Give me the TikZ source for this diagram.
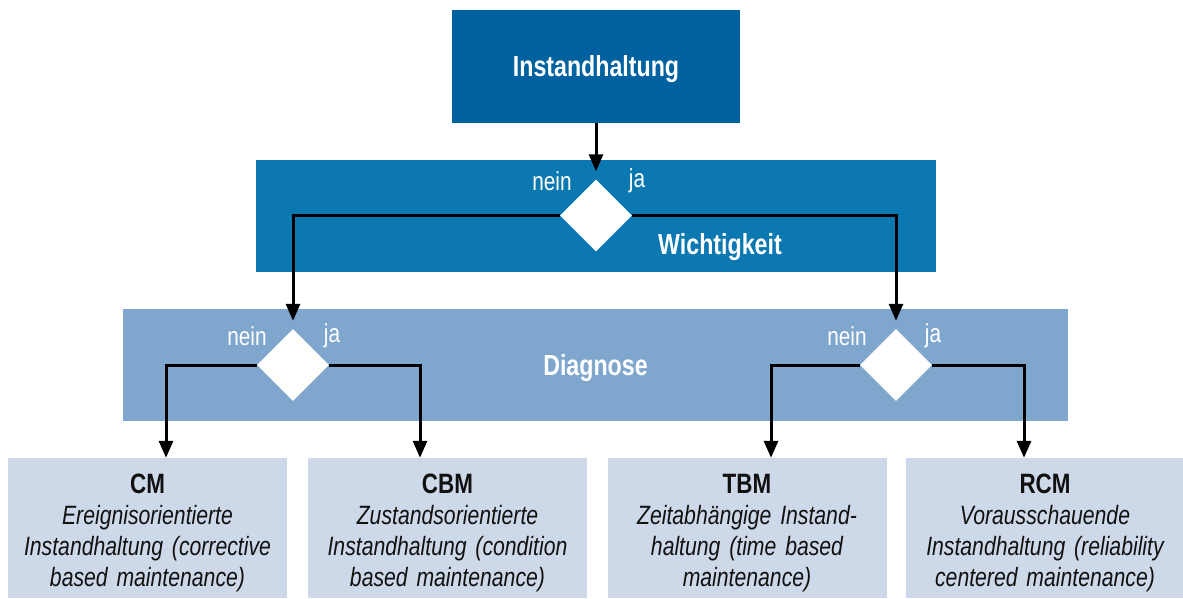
\documentclass[tikz,border=0pt]{standalone}
\usepackage{fontspec}
\setmainfont{Liberation Sans}[FakeStretch=0.8]
\usetikzlibrary{shapes.geometric,arrows.meta}
\definecolor{topc}{HTML}{0061A0}
\definecolor{wc}{HTML}{0C78B1}
\definecolor{dc}{HTML}{7FA6CD}
\definecolor{leafc}{HTML}{CDD9E9}
\definecolor{ink}{HTML}{111111}
\tikzset{
  band/.style={rectangle, inner sep=0pt, draw=none},
  title/.style={font=\bfseries\fontsize{29}{32}\selectfont, text=white, text depth=0pt},
  yn/.style={font=\fontsize{26}{30}\selectfont, text=white, inner sep=0pt},
  dia/.style={diamond, fill=white, inner sep=0pt, minimum width=72pt, minimum height=72pt},
  leaf/.style={rectangle, fill=leafc, inner sep=0pt, minimum width=279pt, minimum height=140pt, text width=279pt, align=center, text=ink, font=\fontsize{26.5}{31}\selectfont\itshape},
  leafhead/.style={},
  conn/.style={line width=3pt, draw=black},
  arr/.style={conn, -{Triangle[width=14pt,length=17pt]}}
}
\newcommand{\leafhd}[1]{{\upshape\bfseries\fontsize{28}{31}\selectfont #1}}
\begin{document}
\begin{tikzpicture}[x=1pt,y=-1pt]
\useasboundingbox (0,0) rectangle (1183,599);
% boxes and bands
\node[band, fill=topc, minimum width=288pt, minimum height=113pt, title] (top) at (596,66.3) {Instandhaltung};
\node[band, fill=wc, minimum width=680pt, minimum height=112pt] (wband) at (595.5,215.5) {};
\node[title, inner sep=0pt] (wlabel) at (720,244) {Wichtigkeit};
\node[band, fill=dc, minimum width=945pt, minimum height=112pt, title] (dband) at (595.5,365) {Diagnose};
% decisions
\node[dia] (d1) at (596,215.5) {};
\node[dia] (d2) at (293,365) {};
\node[dia] (d3) at (896,365) {};
% yes / no labels
\node[yn] (n1) at (552,181) {nein};
\node[yn] (j1) at (637,181) {ja};
\node[yn] (n2) at (247,336) {nein};
\node[yn] (j2) at (332,336) {ja};
\node[yn] (n3) at (847,336) {nein};
\node[yn] (j3) at (933,336) {ja};
% leaves
\node[leaf, text depth=0pt] (cm) at (147.5,528) {};
\node[leaf] (cbm) at (447.5,528) {};
\node[leaf] (tbm) at (747,528) {};
\node[leaf] (rcm) at (1045,528) {};
\node[leaf, fill=none, minimum height=0pt] (cmt) at ([yshift=-5pt]cm.center) {\leafhd{CM}\\Ereignisorientierte\\Instandhaltung (corrective\\based maintenance)};
\node[leaf, fill=none, minimum height=0pt] (cbmt) at ([yshift=-5pt]cbm.center) {\leafhd{CBM}\\Zustandsorientierte\\Instandhaltung (condition\\based maintenance)};
\node[leaf, fill=none, minimum height=0pt] (tbmt) at ([yshift=-5pt]tbm.center) {\leafhd{TBM}\\Zeitabhängige Instand-\\haltung (time based\\maintenance)};
\node[leaf, fill=none, minimum height=0pt] (rcmt) at ([yshift=-5pt]rcm.center) {\leafhd{RCM}\\Vorausschauende\\Instandhaltung (reliability\\centered maintenance)};
% turn columns
\coordinate (x1) at (166,0);
\coordinate (x2) at (420,0);
\coordinate (x3) at (771,0);
\coordinate (x4) at (1024,0);
% connectors
\draw[arr] (top.south) -- ([yshift=8pt]d1.north);
\draw[arr] (d1.west) -| ([yshift=8pt]d2.north);
\draw[arr] (d1.east) -| ([yshift=8pt]d3.north);
\draw[arr] (d2.west) -| (x1 |- cm.north);
\draw[arr] (d2.east) -| (x2 |- cbm.north);
\draw[arr] (d3.west) -| (x3 |- tbm.north);
\draw[arr] (d3.east) -| (x4 |- rcm.north);
\end{tikzpicture}
\end{document}
